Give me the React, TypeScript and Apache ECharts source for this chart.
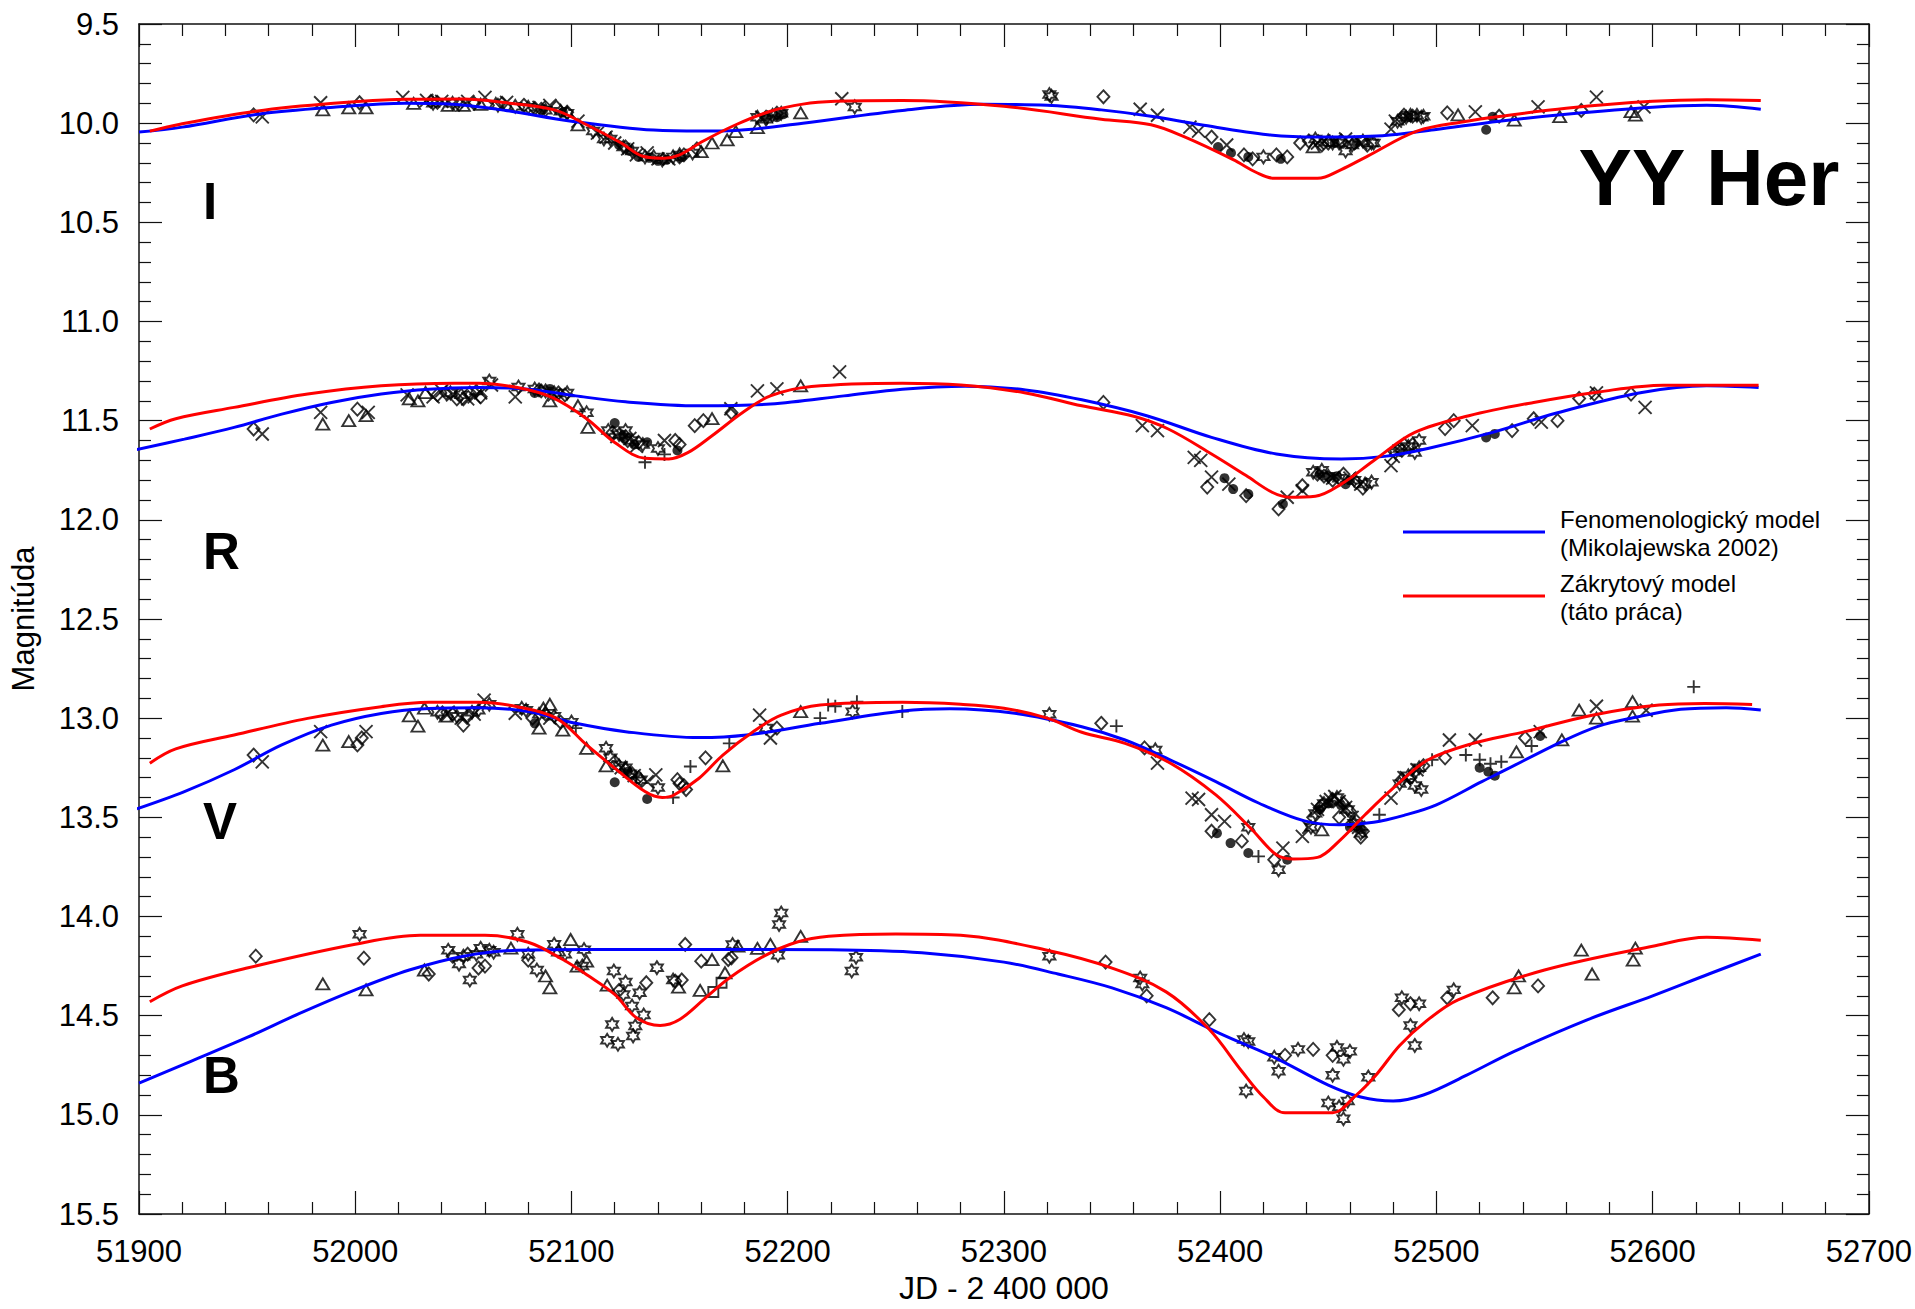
import React, { useEffect, useRef } from "react";
import * as echarts from "echarts";

type Pt = [number, number];

// ---- Model light curves (JD - 2400000, magnitude) ----
const iBlue: Pt[] = [[51900,10.045],[51920,10.02],[51955,9.955],[51990,9.92],[52023,9.90],[52045,9.905],[52069,9.935],[52100,9.99],[52138,10.035],[52160,10.04],[52176,10.037],[52207,10.0],[52253,9.936],[52290,9.905],[52320,9.91],[52345,9.933],[52368,9.965],[52391,10.008],[52422,10.058],[52445,10.07],[52475,10.063],[52499,10.033],[52529,9.99],[52560,9.955],[52600,9.92],[52625,9.91],[52650,9.93]];
const iRed: Pt[] = [[51905,10.04],[51919,10.005],[51954,9.94],[51990,9.90],[52023,9.88],[52050,9.878],[52069,9.896],[52092,9.933],[52107,10.008],[52123,10.10],[52133,10.167],[52143,10.177],[52150,10.16],[52161,10.09],[52176,10.008],[52192,9.94],[52207,9.904],[52222,9.89],[52253,9.886],[52300,9.915],[52345,9.98],[52368,10.008],[52383,10.067],[52406,10.184],[52417,10.25],[52425,10.278],[52445,10.278],[52456,10.234],[52468,10.167],[52491,10.04],[52514,9.99],[52529,9.966],[52560,9.925],[52600,9.89],[52625,9.882],[52650,9.886]];

const rBlue: Pt[] = [[51899,11.646],[51921,11.593],[51944,11.534],[51966,11.467],[51989,11.408],[52012,11.366],[52034,11.341],[52057,11.333],[52080,11.341],[52102,11.375],[52125,11.405],[52159,11.425],[52192,11.416],[52226,11.375],[52253,11.341],[52282,11.326],[52310,11.345],[52336,11.395],[52366,11.475],[52396,11.584],[52426,11.668],[52456,11.693],[52476,11.68],[52496,11.64],[52526,11.559],[52556,11.46],[52595,11.358],[52625,11.324],[52649,11.333]];
const rRed: Pt[] = [[51905,11.542],[51917,11.49],[51944,11.433],[51978,11.366],[52012,11.324],[52046,11.311],[52057,11.311],[52075,11.333],[52091,11.383],[52107,11.49],[52120,11.61],[52134,11.69],[52145,11.693],[52154,11.66],[52165,11.576],[52179,11.46],[52192,11.375],[52211,11.328],[52253,11.311],[52280,11.32],[52310,11.36],[52336,11.425],[52360,11.478],[52376,11.542],[52396,11.668],[52412,11.777],[52424,11.861],[52432,11.886],[52444,11.881],[52456,11.82],[52472,11.693],[52490,11.559],[52515,11.475],[52545,11.408],[52575,11.355],[52605,11.321],[52649,11.321]];

const vBlue: Pt[] = [[51899,13.457],[51921,13.37],[51944,13.26],[51966,13.135],[51989,13.035],[52012,12.976],[52034,12.951],[52057,12.947],[52080,12.967],[52102,13.026],[52125,13.068],[52159,13.098],[52181,13.085],[52215,13.026],[52253,12.964],[52275,12.952],[52305,12.975],[52336,13.043],[52356,13.11],[52377,13.211],[52398,13.32],[52418,13.429],[52439,13.518],[52455,13.538],[52471,13.525],[52485,13.49],[52500,13.437],[52521,13.32],[52531,13.266],[52558,13.118],[52575,13.04],[52591,12.998],[52613,12.955],[52634,12.947],[52650,12.959]];
const vRed: Pt[] = [[51905,13.227],[51917,13.155],[51944,13.085],[51978,13.001],[52012,12.942],[52034,12.92],[52057,12.92],[52075,12.942],[52093,13.0],[52107,13.135],[52120,13.252],[52134,13.37],[52142,13.40],[52147,13.39],[52159,13.303],[52170,13.186],[52184,13.068],[52197,12.985],[52215,12.934],[52253,12.92],[52280,12.93],[52300,12.95],[52320,13.0],[52336,13.071],[52356,13.127],[52377,13.227],[52398,13.387],[52414,13.554],[52426,13.689],[52434,13.71],[52445,13.702],[52455,13.62],[52467,13.487],[52480,13.353],[52496,13.211],[52517,13.127],[52541,13.068],[52572,12.985],[52603,12.934],[52624,12.926],[52646,12.931]];

const bBlue: Pt[] = [[51900,14.84],[51924,14.73],[51950,14.61],[51974,14.49],[52000,14.37],[52025,14.27],[52050,14.2],[52075,14.17],[52110,14.166],[52160,14.166],[52220,14.168],[52262,14.183],[52300,14.23],[52325,14.29],[52350,14.36],[52375,14.46],[52400,14.59],[52425,14.71],[52450,14.85],[52465,14.91],[52480,14.93],[52494,14.9],[52514,14.8],[52536,14.68],[52570,14.52],[52600,14.4],[52626,14.29],[52650,14.19]];
const bRed: Pt[] = [[51905,14.43],[51920,14.35],[51950,14.26],[52000,14.14],[52030,14.095],[52060,14.095],[52080,14.13],[52096,14.217],[52108,14.3],[52120,14.393],[52130,14.51],[52141,14.549],[52150,14.519],[52162,14.41],[52173,14.31],[52189,14.2],[52204,14.13],[52219,14.1],[52250,14.088],[52280,14.095],[52320,14.17],[52350,14.26],[52375,14.38],[52395,14.57],[52410,14.78],[52420,14.91],[52430,14.99],[52452,14.99],[52462,14.91],[52472,14.8],[52483,14.65],[52495,14.53],[52510,14.42],[52550,14.27],[52600,14.15],[52625,14.105],[52650,14.12]];

// ---- Observations, grouped by plotting symbol (I, R, V, B bands) ----
const diamondPts: Pt[] = [
  // I
  [51953,9.958],[52002,9.897],[52035,9.89],[52038,9.895],[52048,9.905],[52055,9.9],[52068,9.9],[52078,9.91],[52083,9.925],[52086,9.93],[52093,9.92],[52098,9.945],
  [52125,10.12],[52150,10.17],[52152,10.16],[52158,10.13],[52190,9.97],[52195,9.95],
  [52346,9.867],[52396,10.07],[52411,10.16],[52415,10.18],[52426,10.16],[52431,10.17],[52437,10.10],[52441,10.09],[52447,10.11],[52450,10.1],[52456,10.09],[52462,10.1],[52468,10.11],
  [52484,9.975],[52485,9.96],[52489,9.965],[52505,9.948],[52529,9.965],[52567,9.936],
  // R
  [51953,11.542],[52001,11.442],[52038,11.37],[52042,11.36],[52047,11.39],[52050,11.39],[52053,11.36],[52058,11.38],[52085,11.345],[52086,11.35],[52094,11.36],[52097,11.37],
  [52119,11.56],[52125,11.58],[52126,11.6],[52131,11.61],[52148,11.60],[52150,11.62],[52157,11.525],[52161,11.50],[52174,11.46],
  [52346,11.408],[52394,11.835],[52412,11.878],[52427,11.945],[52438,11.828],[52445,11.77],[52448,11.78],[52452,11.80],[52457,11.77],[52463,11.81],[52466,11.84],
  [52484,11.65],[52485,11.62],[52489,11.62],[52504,11.54],[52508,11.50],[52535,11.55],[52545,11.49],[52556,11.50],[52566,11.388],[52573,11.366],[52590,11.366],
  // V
  [51953,13.186],[52001,13.135],[52003,13.1],[52040,12.98],[52045,12.98],[52050,13.035],[52052,12.99],[52082,13.0],[52088,12.98],[52095,13.02],
  [52120,13.22],[52125,13.26],[52128,13.28],[52131,13.3],[52149,13.31],[52150,13.33],[52152,13.34],[52153,13.36],[52162,13.2],[52195,13.05],
  [52345,13.026],[52365,13.15],[52396,13.57],[52410,13.62],[52425,13.714],[52443,13.5],[52446,13.45],[52447,13.44],[52452,13.41],[52455,13.5],[52457,13.43],[52460,13.47],[52463,13.52],[52465,13.6],[52466,13.57],
  [52484,13.31],[52488,13.3],[52490,13.27],[52494,13.24],[52504,13.2],[52541,13.1],
  // B
  [51954,14.20],[52004,14.21],[52034,14.29],[52045,14.20],[52052,14.19],[52057,14.26],[52060,14.25],[52080,14.22],[52122,14.373],[52134.6,14.334],[52148,14.326],[52151,14.32],[52152.6,14.141],[52160,14.225],[52172.5,14.217],[52174,14.208],
  [52347,14.23],[52366,14.40],[52395,14.52],[52430,14.70],[52443,14.67],[52452,14.70],[52482.6,14.47],[52488,14.44],[52505,14.41],[52526,14.41],[52547,14.35]
];

const crossPts: Pt[] = [
  // I
  [51957,9.968],[51984,9.897],[52022,9.87],[52033,9.885],[52040,9.89],[52052,9.89],[52060,9.87],[52070,9.895],[52085,9.92],[52090,9.91],[52103,9.99],
  [52112,10.05],[52116,10.07],[52120,10.1],[52126,10.13],[52130,10.16],[52135,10.15],[52140,10.18],[52145,10.18],[52188,9.97],[52225,9.877],
  [52363,9.93],[52371,9.96],[52386,10.02],[52390,10.04],[52403,10.11],[52445,10.1],[52448,10.09],[52458,10.08],[52465,10.1],[52479,10.03],[52481,9.99],
  [52518,9.943],[52547,9.918],[52574,9.869],[52596,9.918],
  // R
  [51957,11.567],[51984,11.458],[52006,11.458],[52024,11.37],[52036,11.38],[52040,11.35],[52045,11.37],[52052,11.39],[52055,11.38],[52058,11.36],[52063,11.32],[52074,11.38],[52092,11.37],
  [52121,11.58],[52127,11.59],[52130,11.63],[52143,11.60],[52173.7,11.44],[52186,11.35],[52195,11.34],[52224,11.254],
  [52364,11.525],[52371,11.55],[52388,11.685],[52391,11.70],[52396,11.785],[52404,11.82],[52431,11.886],[52438,11.853],[52452,11.79],[52460,11.79],[52465,11.82],
  [52479,11.727],[52480,11.68],[52516.6,11.525],[52548.5,11.507],[52574,11.36],[52596.5,11.433],
  // V
  [51957,13.22],[51984,13.068],[52005,13.068],[52043,12.97],[52049,13.0],[52055,12.98],[52059.6,12.909],[52074,12.975],[52090,13.0],
  [52123,13.25],[52129,13.29],[52135,13.32],[52139,13.286],[52187,12.985],[52192,13.1],
  [52371,13.227],[52387,13.403],[52390,13.41],[52396,13.487],[52402,13.52],[52429,13.655],[52438,13.596],[52441,13.55],[52445,13.46],[52449,13.42],[52451,13.41],[52453,13.395],[52455,13.42],[52458,13.45],[52461,13.5],[52464,13.55],
  [52479,13.403],[52485,13.3],[52486,13.3],[52491,13.26],[52506,13.11],[52518,13.11],[52548,13.068],[52574,12.94],[52597,12.96]
];

const trianglePts: Pt[] = [
  // I
  [51985,9.933],[51997,9.923],[52005,9.923],[52027,9.9],[52043,9.91],[52050,9.91],[52058,9.905],[52065,9.9],[52103,10.008],[52160,10.144],[52165,10.10],[52172,10.084],[52176,10.043],[52186,10.023],[52206,9.948],
  [52443,10.12],[52450,10.085],[52510,9.958],[52536,9.985],[52557,9.967],[52590,9.942],[52592,9.96],
  // R
  [51985,11.517],[51997,11.50],[52005,11.475],[52025,11.39],[52029,11.40],[52032.5,11.358],[52090,11.40],[52103,11.425],[52107.6,11.534],[52165,11.49],[52206,11.325],
  // V
  [51985,13.136],[51997,13.118],[52025,12.988],[52029,13.04],[52032,12.95],[52042,12.99],[52085,13.05],[52087,12.95],[52090,12.93],[52096,13.06],[52107,13.152],[52116,13.24],[52170,13.24],[52206,12.967],
  [52447,13.563],[52537,13.17],[52558,13.11],[52566,12.96],[52574,13.0],[52590.7,12.917],[52590.7,12.99],
  // B
  [51985,14.34],[52005,14.37],[52032,14.27],[52072,14.16],[52088,14.30],[52090,14.36],[52094,14.17],[52099.6,14.116],[52102.6,14.25],[52107,14.225],[52116.5,14.346],[52149.5,14.356],[52159.5,14.373],[52165,14.217],[52171,14.284],[52177,14.15],[52186,14.161],[52192,14.141],[52206,14.10],
  [52536,14.36],[52538,14.30],[52567,14.17],[52572,14.29],[52591,14.22],[52592,14.16]
];

const dotPts: Pt[] = [
  // I
  [52087,9.93],[52096,9.945],[52122,10.11],[52127,10.14],[52131,10.17],[52136,10.175],[52140,10.19],[52144,10.185],[52151,10.17],[52190,9.965],[52195,9.97],[52198,9.955],
  [52399,10.12],[52405,10.15],[52413,10.17],[52428,10.18],[52453,10.1],[52463,10.1],[52487,9.97],[52523,10.033],[52526,9.968],
  // R
  [52083,11.36],[52090,11.34],[52120,11.512],[52124,11.58],[52129,11.62],[52135,11.609],[52149,11.65],
  [52402,11.79],[52406,11.845],[52413,11.87],[52429,11.92],[52446,11.77],[52450,11.78],[52454,11.78],[52458,11.82],[52460,11.80],[52523,11.585],[52527,11.567],
  // V
  [52083,13.026],[52120,13.323],[52126,13.27],[52135,13.407],[52398.5,13.58],[52404.8,13.63],[52413,13.68],[52431,13.714],
  [52446,13.46],[52450,13.43],[52456,13.44],[52460,13.55],[52465,13.56],[52520,13.25],[52524,13.27],[52527,13.29],[52548,13.09]
];

const starPts: Pt[] = [
  // I
  [52036,9.9],[52045,9.9],[52066,9.91],[52074,9.915],[52080,9.92],[52088,9.935],[52095,9.94],[52098,9.95],
  [52110,10.04],[52115,10.08],[52118,10.08],[52124,10.12],[52128,10.14],[52134,10.17],[52138,10.17],[52142,10.185],[52147,10.17],[52150,10.16],[52156,10.15],
  [52186,9.97],[52190,9.98],[52193,9.96],[52197,9.95],[52231,9.918],[52321,9.856],[52322,9.865],[52420,10.17],
  [52444,10.08],[52452,10.1],[52455,10.1],[52458,10.14],[52461,10.11],[52466,10.09],[52470,10.10],[52471,10.1],[52482,9.99],[52486,9.97],[52488,9.96],[52491,9.96],[52493,9.97],[52494,9.965],
  // R
  [52044,11.36],[52049,11.37],[52056,11.35],[52062,11.30],[52075.5,11.33],[52083,11.34],[52088,11.35],[52092,11.36],[52098,11.36],[52107,11.46],
  [52117,11.55],[52122,11.57],[52125,11.55],[52128,11.6],[52133,11.62],[52140,11.64],
  [52443,11.76],[52447,11.75],[52450,11.78],[52455,11.79],[52462,11.8],[52467,11.82],[52470,11.81],[52481,11.66],[52483,11.64],[52487,11.63],[52490,11.66],[52492,11.6],
  // V
  [52038,12.97],[52047,12.99],[52054,12.97],[52057,12.96],[52062,12.93],[52077,12.95],[52079,12.96],[52085,12.98],[52092,12.99],[52100,13.02],
  [52116,13.152],[52118,13.2],[52122,13.24],[52125,13.25],[52127,13.28],[52132,13.31],[52140,13.35],[52190,13.05],[52230,12.967],[52321,12.98],[52370,13.16],
  [52413,13.55],[52427,13.764],[52442,13.55],[52444,13.48],[52448,13.43],[52454,13.4],[52459,13.46],[52462,13.53],[52465,13.58],
  [52483,13.33],[52487,13.29],[52490,13.34],[52492,13.25],[52493,13.36],
  // B
  [52002,14.09],[52043,14.17],[52048,14.24],[52050,14.2],[52053,14.32],[52056,14.19],[52058,14.16],[52062,14.17],[52064,14.18],[52075,14.09],[52080,14.19],[52084,14.27],[52092,14.14],[52097,14.19],[52105.8,14.167],[52105,14.25],[52119.6,14.275],[52139.5,14.258],[52124,14.393],[52125,14.33],[52131.5,14.384],[52128,14.451],[52133.4,14.497],[52118.8,14.544],[52129.5,14.552],[52128.5,14.602],[52116.5,14.624],[52121.5,14.644],[52147,14.32],[52174.5,14.141],[52195.5,14.195],[52196,14.04],[52197,13.982],[52229.6,14.275],[52231.6,14.205],
  [52321,14.20],[52363,14.31],[52364,14.34],[52411,14.62],[52413,14.63],[52412,14.88],[52425,14.71],[52427,14.78],[52436,14.67],[52454,14.66],[52457,14.72],[52460,14.68],[52450,14.94],[52455,14.96],[52457,15.02],[52459,14.93],[52452,14.80],[52468.5,14.81],[52484,14.41],[52488,14.55],[52490,14.65],[52492,14.44],[52508,14.37]
];

const plusPts: Pt[] = [
  // R
  [52134,11.71],[52143,11.67],
  // V
  [52102,13.05],[52130,13.3],[52147,13.40],[52155,13.244],[52173,13.127],[52215,13.0],[52218.7,12.934],[52222,12.94],[52232,12.917],[52253,12.967],[52352,13.04],[52417.7,13.697],[52473.6,13.487],[52498,13.21],[52513.6,13.186],[52520,13.21],[52525,13.23],[52530,13.22],[52544,13.14],[52619,12.842]
];

const squarePts: Pt[] = [
  // B
  [52165.6,14.381],[52169.4,14.334]
];

// ---- Axis setup and texts ----
const xMin = 51900;
const xMax = 52700;
const xStep = 100;
const yMin = 9.5;
const yMax = 15.5;
const yStep = 0.5;

const bandLabels: { text: string; y: number }[] = [
  { text: "I", y: 201 },
  { text: "R", y: 551 },
  { text: "V", y: 821 },
  { text: "B", y: 1075 },
];
const starName = "YY Her";
const legendLines = [
  { color: "#0000ff", lines: ["Fenomenologický model", "(Mikolajewska 2002)"] },
  { color: "#ff0000", lines: ["Zákrytový model", "(táto práca)"] },
];

const FONT = '"Liberation Sans", Arial, Helvetica, sans-serif';
const BLUE = "#0000ff";
const RED = "#ff0000";

const STAR_PATH =
  "path://M50 0L64.43 25L93.3 25L78.87 50L93.3 75L64.43 75L50 100L35.57 75L6.7 75L21.13 50L6.7 25L35.57 25Z";
const CROSS_PATH = "path://M0 0L10 10M10 0L0 10";
const PLUS_PATH = "path://M5 0L5 10M0 5L10 5";

function curve(data: Pt[], color: string) {
  return {
    type: "line",
    data,
    smooth: 0.35,
    showSymbol: false,
    symbol: "none",
    silent: true,
    z: 5,
    lineStyle: { color, width: 3 },
  };
}

function marks(data: Pt[], symbol: string, size: number | number[], filled = false) {
  return {
    type: "scatter",
    data,
    symbol,
    symbolSize: size,
    silent: true,
    z: 3,
    itemStyle: {
      color: filled ? "#000" : "rgba(0,0,0,0)",
      borderColor: "#000",
      borderWidth: filled ? 0 : 1.9,
    },
  };
}

const axisLine = { show: true, lineStyle: { color: "#111", width: 1.5 } };
const axisTick = { show: true, inside: true, length: 23, lineStyle: { color: "#111", width: 1.2 } };
const minorTick = { show: true, splitNumber: 5, length: 12, lineStyle: { color: "#111", width: 1.2 } };

export default function App() {
  const ref = useRef<HTMLDivElement>(null);

  useEffect(() => {
    if (!ref.current) return;
    const chart = echarts.init(ref.current, undefined, { renderer: "svg" });

    const graphic: any[] = [];
    bandLabels.forEach((b) => {
      graphic.push({
        type: "text",
        x: 203,
        y: b.y,
        silent: true,
        style: { text: b.text, font: `bold 51px ${FONT}`, fill: "#000", align: "left", verticalAlign: "middle" },
      });
    });
    graphic.push({
      type: "text",
      x: 1709,
      y: 177,
      silent: true,
      style: { text: starName, font: `bold 80px ${FONT}`, fill: "#000", align: "center", verticalAlign: "middle" },
    });
    legendLines.forEach((item, i) => {
      const y0 = 532 + i * 64;
      graphic.push({
        type: "line",
        silent: true,
        shape: { x1: 1403, y1: y0, x2: 1545, y2: y0 },
        style: { stroke: item.color, lineWidth: 3 },
      });
      item.lines.forEach((t, j) => {
        graphic.push({
          type: "text",
          x: 1560,
          y: y0 - 13 + j * 28,
          silent: true,
          style: { text: t, font: `24px ${FONT}`, fill: "#000", align: "left", verticalAlign: "middle" },
        });
      });
    });

    chart.setOption({
      animation: false,
      backgroundColor: "#fff",
      textStyle: { fontFamily: FONT },
      grid: { left: 133, right: 44, top: 24, bottom: 92, containLabel: false },
      xAxis: [
        {
          type: "value",
          position: "bottom",
          min: xMin,
          max: xMax,
          interval: xStep,
          name: "JD - 2 400 000",
          nameLocation: "middle",
          nameGap: 58,
          nameTextStyle: { fontSize: 32, color: "#000", fontFamily: FONT },
          axisLine,
          axisTick,
          minorTick,
          splitLine: { show: false },
          axisLabel: { fontSize: 31, color: "#000", margin: 22, fontFamily: FONT, formatter: (v: number) => String(v) },
        },
        {
          type: "value",
          position: "top",
          min: xMin,
          max: xMax,
          interval: xStep,
          axisLine,
          axisTick,
          minorTick,
          splitLine: { show: false },
          axisLabel: { show: false },
        },
      ],
      yAxis: [
        {
          type: "value",
          position: "left",
          inverse: true,
          min: yMin,
          max: yMax,
          interval: yStep,
          name: "Magnitúda",
          nameLocation: "middle",
          nameGap: 100,
          nameTextStyle: { fontSize: 31, color: "#000", fontFamily: FONT },
          axisLine,
          axisTick,
          minorTick,
          splitLine: { show: false },
          axisLabel: { fontSize: 31, color: "#000", margin: 20, fontFamily: FONT, formatter: (v: number) => v.toFixed(1) },
        },
        {
          type: "value",
          position: "right",
          inverse: true,
          min: yMin,
          max: yMax,
          interval: yStep,
          axisLine,
          axisTick,
          minorTick,
          splitLine: { show: false },
          axisLabel: { show: false },
        },
      ],
      series: [
        marks(diamondPts, "diamond", [12, 13]),
        marks(trianglePts, "triangle", [13, 11]),
        marks(squarePts, "rect", [10, 10]),
        marks(starPts, STAR_PATH, [12, 13]),
        marks(crossPts, CROSS_PATH, [13, 13]),
        marks(plusPts, PLUS_PATH, [13, 13]),
        marks(dotPts, "circle", 10, true),
        curve(iBlue, BLUE),
        curve(rBlue, BLUE),
        curve(vBlue, BLUE),
        curve(bBlue, BLUE),
        curve(iRed, RED),
        curve(rRed, RED),
        curve(vRed, RED),
        curve(bRed, RED),
      ],
      graphic,
    });

    return () => chart.dispose();
  }, []);

  return (
    <div
      ref={ref}
      style={{ position: "fixed", left: 0, top: 0, width: 1915, height: 1309, background: "#fff" }}
    />
  );
}
